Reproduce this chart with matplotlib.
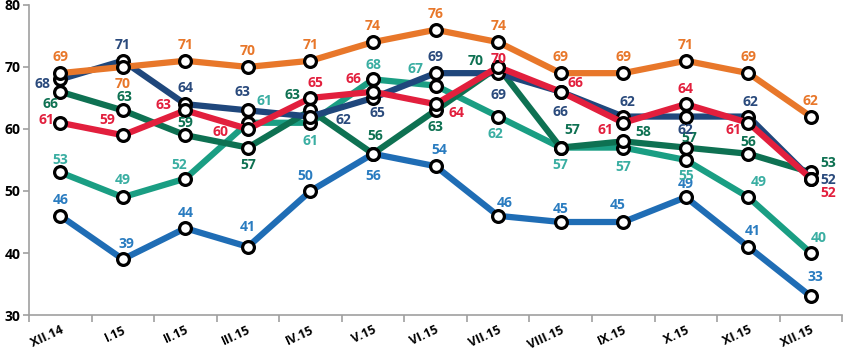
import matplotlib.pyplot as plt
import matplotlib.transforms as mtransforms
from matplotlib.ticker import FixedLocator, NullFormatter

# data
months = ['XII.14', 'I.15', 'II.15', 'III.15', 'IV.15', 'V.15', 'VI.15',
          'VII.15', 'VIII.15', 'IX.15', 'X.15', 'XI.15', 'XII.15']
orange = [69, 70, 71, 70, 71, 74, 76, 74, 69, 69, 71, 69, 62]
navy = [68, 71, 64, 63, 62, 65, 69, 69, 66, 62, 62, 62, 52]
green = [66, 63, 59, 57, 63, 56, 63, 70, 57, 58, 57, 56, 53]
red = [61, 59, 63, 60, 65, 66, 64, 70, 66, 61, 64, 61, 52]
teal = [53, 49, 52, 61, 61, 68, 67, 62, 57, 57, 55, 49, 40]
blue = [46, 39, 44, 41, 50, 56, 54, 46, 45, 45, 49, 41, 33]

# label offsets in pixels (dx, dy with dy positive = down, like the picture)
off_orange = [(0, -16), (0, 17), (0, -16), (0, -16), (0, -16), (0, -16), (0, -16),
              (0, -16), (0, -16), (0, -16), (0, -16), (0, -16), (0, -16)]
off_navy = [(-18, 5), (0, -16), (0, -16), (-5, -18), (33, 3), (4, 15), (0, -16),
            (0, 22), (0, 20), (4, -15), (0, 13), (2, -15), (17, 1)]
off_green = [(-10, 12), (2, -13), (0, -12), (0, 17), (-18, -15), (2, -18), (0, 17),
             (-23, -6), (12, -18), (20, -9), (4, -10), (0, -12), (17, -9)]
off_red = [(-14, -3), (-16, -15), (-22, -5), (-27, 3), (5, -15), (-20, -13), (21, 9),
           (0, -8), (15, -9), (-18, 7), (0, -15), (-15, 7), (17, 14)]
off_teal = [(0, -12), (0, -17), (-6, -14), (17, -22), (0, 18), (0, -14), (-20, -17),
            (-3, 17), (0, 17), (0, 19), (0, 16), (10, -15), (8, -15)]
off_blue = [(0, -16), (4, -15), (0, -15), (0, -20), (-5, -15), (0, 22), (4, -16),
            (7, -13), (0, -13), (-6, -17), (0, -13), (4, -16), (4, -19)]

series = [
    (blue, '#1f6db5', '#2a7cc0', off_blue),
    (teal, '#1a9e83', '#3aaea2', off_teal),
    (green, '#0e7152', '#0e7152', off_green),
    (navy, '#1f477c', '#2a4a7c', off_navy),
    (red, '#e21f3d', '#e21f3d', off_red),
    (orange, '#e8772a', '#e8772a', off_orange),
]

fig = plt.figure(figsize=(8.43, 3.52), dpi=100)
ax = fig.add_axes([0.0344, 0.105, 0.9646, 0.881])

x = list(range(len(months)))
for vals, col, tcol, offs in series:
    ax.plot(x, vals, color=col, lw=4.5, marker='o', ms=8.5, mfc='white',
            mec='black', mew=2.3, solid_capstyle='round', zorder=3)
    for xi, v, (dx, dy) in zip(x, vals, offs):
        ax.annotate(str(v), (xi, v), xytext=(dx, -dy), textcoords='offset pixels',
                    ha='center', va='center', color=tcol, fontsize=10,
                    fontweight='bold', family='Open Sans', zorder=4)

ax.set_xlim(-0.5, len(months) - 0.5)
ax.set_ylim(30, 80)
ax.set_yticks([30, 40, 50, 60, 70, 80])
ax.set_xticks(x)
ax.set_xticklabels(months, rotation=25, fontweight='bold', fontsize=9,
                   family='Open Sans', ha='right', va='top')
ax.tick_params(axis='x', length=0, pad=6)
# nudge the month labels a little to the right, like the original
shift = mtransforms.ScaledTranslation(5 / 100, 0, fig.dpi_scale_trans)
for lab in ax.get_xticklabels():
    lab.set_transform(lab.get_transform() + shift)
ax.xaxis.set_minor_locator(FixedLocator([i - 0.5 for i in range(len(months) + 1)]))
ax.xaxis.set_minor_formatter(NullFormatter())
ax.tick_params(axis='x', which='minor', length=5, color='#a0a0a0', width=1.2)
ax.tick_params(axis='y', length=4, color='#a0a0a0', width=1.2, pad=2, labelsize=10)
for lab in ax.get_yticklabels():
    lab.set_fontweight('bold')
    lab.set_family('Open Sans')

for s in ['top', 'right']:
    ax.spines[s].set_visible(False)
for s in ['left', 'bottom']:
    ax.spines[s].set_color('#a0a0a0')
    ax.spines[s].set_linewidth(1.2)

fig.savefig('out.png', dpi=100)
